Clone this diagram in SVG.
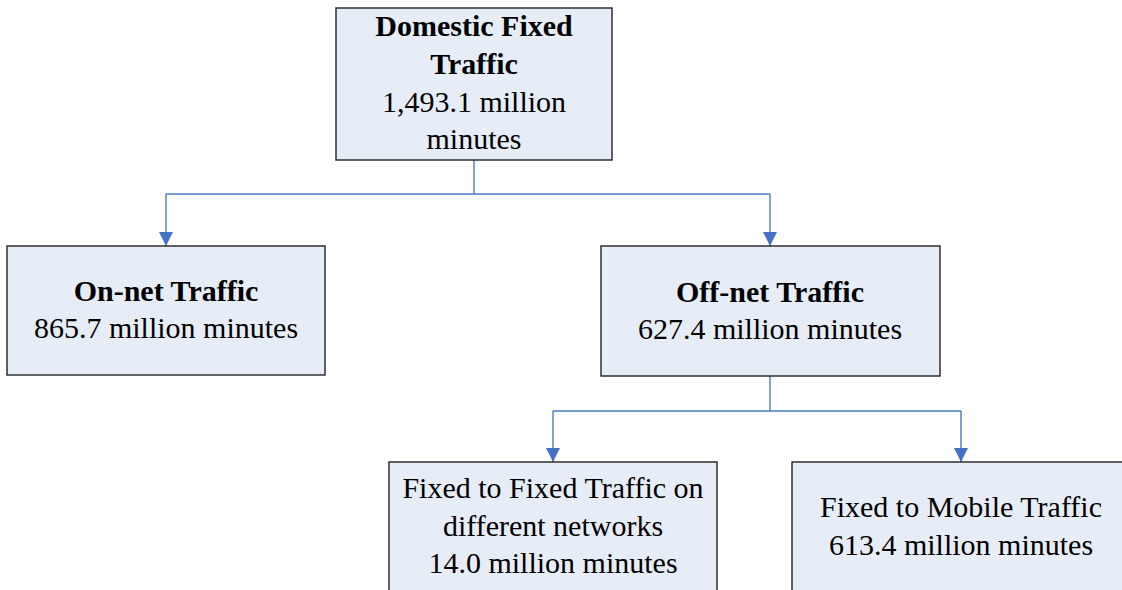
<svg xmlns="http://www.w3.org/2000/svg" width="1122" height="590" viewBox="0 0 1122 590">
<style>
.box{fill:#E7EDF7;stroke:#222;stroke-width:1.4}
.t{font-family:"Liberation Serif","Times New Roman",serif;font-size:30px;fill:#000;text-anchor:middle}
.b{font-weight:bold}
.c{fill:none;stroke:#4A7CC4;stroke-width:1.4}
</style>
<defs>
<marker id="ah" viewBox="0 0 14 14" markerWidth="14" markerHeight="14" markerUnits="userSpaceOnUse" refX="14" refY="7" orient="auto">
<path d="M0,0 L14,7 L0,14 z" fill="#4472C4"/>
</marker>
</defs>
<rect width="1122" height="590" fill="#fff"/>
<g id="connectors">
<path class="c" d="M474,160 V194 M166,194 H770"/>
<path class="c" d="M166,194 V246" marker-end="url(#ah)"/>
<path class="c" d="M770,194 V246" marker-end="url(#ah)"/>
<path class="c" d="M770,376 V411 M553,411 H961"/>
<path class="c" d="M553,411 V462" marker-end="url(#ah)"/>
<path class="c" d="M961,411 V462" marker-end="url(#ah)"/>
</g>
<g id="domestic">
<rect class="box" x="336" y="8" width="276" height="152"/>
<text class="t b" x="474" y="36">Domestic Fixed</text>
<text class="t b" x="474" y="74">Traffic</text>
<text class="t" x="474" y="112">1,493.1 million</text>
<text class="t" x="474" y="149">minutes</text>
</g>
<g id="onnet">
<rect class="box" x="7" y="246" width="318" height="129"/>
<text class="t b" x="166" y="301">On-net Traffic</text>
<text class="t" x="166" y="338">865.7 million minutes</text>
</g>
<g id="offnet">
<rect class="box" x="601" y="246" width="339" height="130"/>
<text class="t b" x="770" y="302">Off-net Traffic</text>
<text class="t" x="770" y="339">627.4 million minutes</text>
</g>
<g id="fixedfixed">
<rect class="box" x="389" y="462" width="328" height="140"/>
<text class="t" x="553" y="498">Fixed to Fixed Traffic on</text>
<text class="t" x="553" y="536">different networks</text>
<text class="t" x="553" y="573">14.0 million minutes</text>
</g>
<g id="fixedmobile">
<rect class="box" x="792" y="462" width="340" height="140"/>
<text class="t" x="961" y="517">Fixed to Mobile Traffic</text>
<text class="t" x="961" y="555">613.4 million minutes</text>
</g>
</svg>
